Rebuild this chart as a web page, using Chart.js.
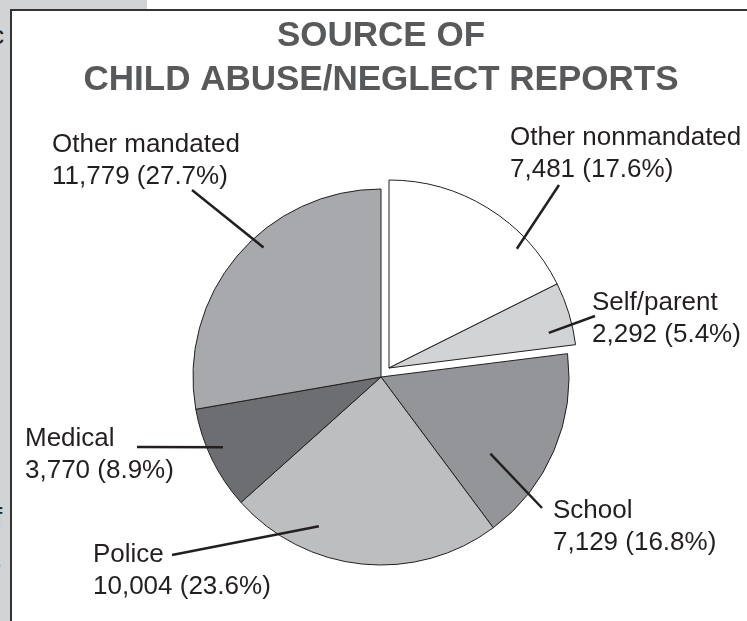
<!DOCTYPE html>
<html>
<head>
<meta charset="utf-8">
<script src="https://cdn.jsdelivr.net/npm/chart.js"></script>
<style>
  html, body { margin: 0; padding: 0; background: #fff; overflow: hidden; }
  #wrap { position: relative; width: 747px; height: 621px; overflow: hidden; }
  #strip { position: absolute; left: 0; top: 0; width: 10px; height: 621px; background: #d1d3d4; }
  #tab { position: absolute; left: 0; top: 0; width: 147px; height: 9px; background: #d1d3d4; }
  #frame { position: absolute; left: 10px; top: 9px; width: 800px; height: 700px; border: 2px solid #333333; box-sizing: border-box; }
  .frag { position: absolute; font: 26px "Liberation Sans", Arial, sans-serif; color: #231f20; line-height: 26px; }
  canvas { position: absolute; left: 0; top: 0; }
</style>
</head>
<body>
<div id="wrap">
  <div id="strip"></div>
  <div id="tab"></div>
  <div id="frame"></div>
  <span class="frag" style="left:-9px; top:22px;">c</span>
  <span class="frag" style="left:-5px; top:504px;">f</span>
  <span class="frag" style="left:-5px; top:545px;">.</span>
  <canvas id="chart" width="747" height="621"></canvas>
</div>
<script>
// data
const categories = ['Other nonmandated', 'Self/parent', 'School', 'Police', 'Medical', 'Other mandated'];
const reports = [7481, 2292, 7129, 10004, 3770, 11779];
const titleLines = ['SOURCE OF', 'CHILD ABUSE/NEGLECT REPORTS'];

// styles
const sliceColors = ['#ffffff', '#d1d3d4', '#939598', '#bcbec0', '#6d6e71', '#a7a9ac'];
const exploded = [true, true, false, false, false, false];
const explodeShift = { x: 8, y: -9 };

// leader line: start given as (angle from top in deg, fraction of radius), end + text in px
const labelLayout = [
    { angle: 47, frac: 0.93, end: [559, 185], text: [510, 145] },
    { angle: 77.6, frac: 0.87, end: [595, 316], text: [592, 310] },
    { angle: 125, frac: 0.71, end: [542, 508], text: [553, 518] },
    { angle: 202.6, frac: 0.86, end: [172, 555], text: [93, 562] },
    { angle: 246, frac: 0.92, end: [137, 447], text: [25, 446] },
    { angle: 317.8, frac: 0.93, end: [192, 190], text: [52, 152] },
];

const total = reports.reduce((a, b) => a + b, 0);

const explodePlugin = {
    id: 'explode',
    beforeDatasetDraw(chart, args) {
        const ctx = chart.ctx;
        args.meta.data.forEach((arc, i) => {
            ctx.save();
            if (exploded[i]) ctx.translate(explodeShift.x, explodeShift.y);
            arc.draw(ctx);
            ctx.restore();
        });
        return false;
    }
};

const labelPlugin = {
    id: 'labels',
    afterDatasetsDraw(chart) {
        const ctx = chart.ctx;
        const arcs = chart.getDatasetMeta(0).data;

        // title
        ctx.save();
        ctx.fillStyle = '#58595b';
        ctx.font = 'bold 35px "Liberation Sans", Arial, sans-serif';
        ctx.textAlign = 'center';
        ctx.textBaseline = 'alphabetic';
        const cx = (chart.chartArea.left + chart.chartArea.right) / 2;
        ctx.fillText(titleLines[0], cx, 46);
        ctx.fillText(titleLines[1], cx, 90);
        ctx.restore();

        arcs.forEach((arc, i) => {
            const lay = labelLayout[i];
            let x0 = arc.x, y0 = arc.y;
            if (exploded[i]) { x0 += explodeShift.x; y0 += explodeShift.y; }
            const a = lay.angle * Math.PI / 180;
            const r = arc.outerRadius * lay.frac;
            const sx = x0 + r * Math.sin(a);
            const sy = y0 - r * Math.cos(a);

            ctx.save();
            ctx.strokeStyle = '#231f20';
            ctx.lineWidth = 2.5;
            ctx.beginPath();
            ctx.moveTo(sx, sy);
            ctx.lineTo(lay.end[0], lay.end[1]);
            ctx.stroke();

            ctx.fillStyle = '#231f20';
            ctx.font = '26px "Liberation Sans", Arial, sans-serif';
            ctx.textAlign = 'left';
            ctx.textBaseline = 'alphabetic';
            const pct = (reports[i] / total * 100).toFixed(1);
            ctx.fillText(categories[i], lay.text[0], lay.text[1]);
            ctx.fillText(reports[i].toLocaleString('en-US') + ' (' + pct + '%)', lay.text[0], lay.text[1] + 32);
            ctx.restore();
        });
    }
};

const ctx = document.getElementById('chart').getContext('2d');
const chart = new Chart(ctx, {
    type: 'pie',
    data: {
        labels: categories,
        datasets: [{
            data: reports,
            backgroundColor: sliceColors,
            borderColor: '#231f20',
            borderWidth: 1,
        }]
    },
    options: {
        responsive: false,
        animation: false,
        devicePixelRatio: 1,
        radius: 188,
        layout: { padding: { left: 15, right: 0, top: 133, bottom: 0 } },
        plugins: {
            legend: { display: false },
            tooltip: { enabled: false },
            title: { display: false },
        }
    },
    plugins: [explodePlugin, labelPlugin]
});
</script>
</body>
</html>
